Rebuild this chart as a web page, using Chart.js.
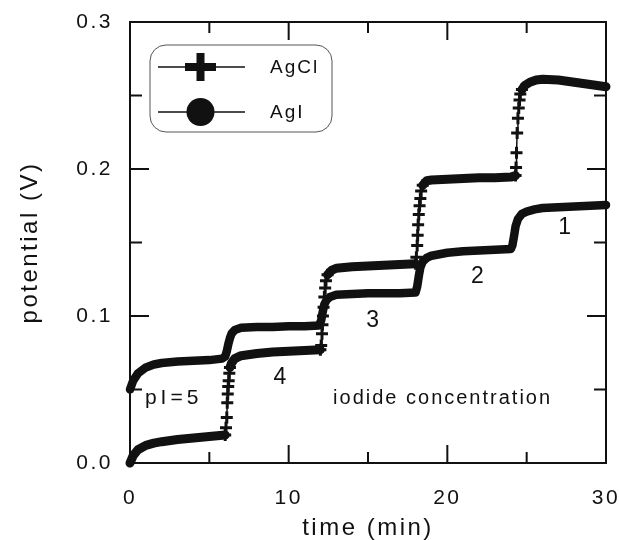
<!DOCTYPE html>
<html><head><meta charset="utf-8">
<script src="https://cdn.jsdelivr.net/npm/chart.js@4/dist/chart.umd.min.js"></script>
<style>html,body{margin:0;padding:0;background:#fff;} #wrap{width:619px;height:540px;}</style>
</head><body><div id="wrap"><canvas id="c" width="619" height="540"></canvas></div>
<script>
// ---- data (time in min, potential in V) ----
const aclTime = [0,0.2,0.5,1,1.5,2,3,4,5,6,6.05,6.1,6.13,6.16,6.19,6.22,6.26,6.3,6.4,6.6,7,8,9,10,11,12,12.05,12.1,12.13,12.16,12.2,12.25,12.3,12.35,12.45,12.7,13,14,15,16,17,18,18.05,18.1,18.13,18.16,18.2,18.25,18.3,18.35,18.45,18.7,19,20,21,22,23,24,24.3,24.33,24.36,24.4,24.45,24.5,24.55,24.6,24.7,24.9,25.2,25.6,26,27,28,29,30];
const aclV = [0,0.005,0.009,0.012,0.0135,0.0145,0.016,0.017,0.018,0.019,0.024,0.031,0.041,0.047,0.052,0.056,0.061,0.065,0.068,0.071,0.073,0.0745,0.0755,0.076,0.0765,0.077,0.080,0.088,0.094,0.100,0.106,0.113,0.119,0.124,0.128,0.131,0.1325,0.1335,0.134,0.1345,0.135,0.1355,0.140,0.148,0.155,0.162,0.169,0.175,0.180,0.185,0.189,0.192,0.1925,0.193,0.1935,0.194,0.194,0.1945,0.1955,0.201,0.211,0.2245,0.2345,0.2415,0.247,0.251,0.254,0.257,0.259,0.2605,0.261,0.2605,0.259,0.2575,0.256];
const agiTime = [0,0.2,0.5,1,1.5,2,3,4,5,5.8,6,6.1,6.2,6.3,6.4,6.6,7,8,9,10,11,11.9,12.05,12.15,12.25,12.4,12.6,13,14,15,16,17,18,18.1,18.2,18.3,18.45,18.7,19,20,21,22,23,24,24.1,24.2,24.3,24.45,24.7,25,25.5,26,27,28,29,30];
const agiV = [0.050,0.056,0.061,0.065,0.067,0.068,0.069,0.0695,0.070,0.071,0.0725,0.076,0.081,0.085,0.088,0.0905,0.092,0.0925,0.0925,0.093,0.093,0.0935,0.097,0.103,0.108,0.111,0.113,0.1145,0.115,0.1155,0.1155,0.1155,0.116,0.120,0.127,0.133,0.137,0.1395,0.141,0.143,0.144,0.1445,0.145,0.1455,0.148,0.154,0.161,0.166,0.1695,0.171,0.1725,0.1735,0.174,0.1745,0.175,0.1755];
const seriesNames = ['AgCl','AgI'];
const xMajorTicks = [0,10,20,30];
const xMinorTicks = [5,15,25];
const yMajorTicks = [0,0.1,0.2,0.3];
const yMinorTicks = [0.05,0.15,0.25];
const annoText = ['1','2','3','4','pI=5','iodide concentration'];
const annoX = [27.4,21.9,15.3,9.45,2.75,19.7];
const annoY = [0.160,0.1265,0.097,0.058,0.044,0.044];

const FAM = '"Liberation Sans", Arial, Helvetica, sans-serif';
const INK = '#111';

const toXY = (xs, ys) => xs.map((x, i) => ({x, y: ys[i]}));

// steep = fast rise between two samples (V per min)
const STEEP = 0.03;
const segSteep = c => {
  const a = c.p0.parsed, b = c.p1.parsed;
  const dt = Math.abs(b.x - a.x) || 1e-9;
  return Math.abs(b.y - a.y) / dt > STEEP;
};
const pointSteep = c => {
  const d = c.dataset.data, i = c.dataIndex;
  if (!d || !d[i]) return false;
  const s = (p, q) => p && q ? Math.abs(q.y - p.y) / (Math.abs(q.x - p.x) || 1e-9) : 0;
  return Math.max(s(d[i - 1], d[i]), s(d[i], d[i + 1])) > STEEP && i > 0;
};

const spacing = {
  id: 'spacing',
  beforeLayout(chart){ chart.ctx.letterSpacing = '2.5px'; },
  beforeDraw(chart){ chart.ctx.letterSpacing = '2.5px'; }
};

const decor = {
  id: 'decor',
  afterDatasetsDraw(chart){
    const ctx = chart.ctx, a = chart.chartArea, sx = chart.scales.x, sy = chart.scales.y;
    ctx.save();
    ctx.strokeStyle = INK; ctx.fillStyle = INK;
    ctx.lineWidth = 2;
    ctx.strokeRect(a.left, a.top, a.right - a.left, a.bottom - a.top);
    const tick = (vals, len) => {
      vals.forEach(v => {
        const px = sx.getPixelForValue(v);
        ctx.beginPath();
        ctx.moveTo(px, a.bottom); ctx.lineTo(px, a.bottom - len);
        ctx.moveTo(px, a.top); ctx.lineTo(px, a.top + len);
        ctx.stroke();
      });
    };
    const ticky = (vals, len) => {
      vals.forEach(v => {
        const py = sy.getPixelForValue(v);
        ctx.beginPath();
        ctx.moveTo(a.left, py); ctx.lineTo(a.left + len, py);
        ctx.moveTo(a.right, py); ctx.lineTo(a.right - len, py);
        ctx.stroke();
      });
    };
    tick(xMajorTicks, 18); tick(xMinorTicks, 11);
    ticky(yMajorTicks, 19); ticky(yMinorTicks, 12);

    ctx.textAlign = 'center'; ctx.textBaseline = 'middle';
    annoText.forEach((t, i) => {
      if (t.length <= 1) { ctx.font = '23px ' + FAM; ctx.letterSpacing = '0px'; }
      else if (t.length <= 4) { ctx.font = '21px ' + FAM; ctx.letterSpacing = '4px'; }
      else { ctx.font = '20px ' + FAM; ctx.letterSpacing = '2px'; }
      ctx.fillText(t, sx.getPixelForValue(annoX[i]), sy.getPixelForValue(annoY[i]));
    });

    // legend box
    const L = 150, T = 45, R = 332, B = 132, rad = 16;
    ctx.lineWidth = 1; ctx.strokeStyle = '#555';
    ctx.beginPath();
    ctx.roundRect(L, T, R - L, B - T, rad);
    ctx.stroke();
    ctx.strokeStyle = INK;
    const rows = [67, 112];
    ctx.lineWidth = 1.3;
    rows.forEach(yy => { ctx.beginPath(); ctx.moveTo(158, yy); ctx.lineTo(245, yy); ctx.stroke(); });
    ctx.fillRect(185, rows[0] - 4, 31, 8);
    ctx.fillRect(196.5, rows[0] - 14, 8, 28);
    ctx.beginPath(); ctx.arc(200.5, rows[1], 14, 0, Math.PI * 2); ctx.fill();
    ctx.font = '19px ' + FAM;
    ctx.textAlign = 'left';
    ctx.letterSpacing = '2px';
    ctx.fillText(seriesNames[0], 270, rows[0] + 1);
    ctx.fillText(seriesNames[1], 270, rows[1] + 1);
    ctx.restore();
  }
};

new Chart(document.getElementById('c'), {
  type: 'line',
  data: {
    datasets: [
      {
        label: seriesNames[0],
        data: toXY(aclTime, aclV),
        borderColor: INK, backgroundColor: INK,
        borderWidth: 9, borderCapStyle: 'round', borderJoinStyle: 'round',
        segment: { borderWidth: c => segSteep(c) ? 1.5 : 9 },
        pointStyle: 'cross', pointBorderWidth: 3,
        pointRadius: c => pointSteep(c) ? 6 : 0,
        pointBorderColor: INK, tension: 0, clip: false
      },
      {
        label: seriesNames[1],
        data: toXY(agiTime, agiV),
        borderColor: INK, backgroundColor: INK,
        borderWidth: 8.5, borderCapStyle: 'round', borderJoinStyle: 'round',
        pointStyle: 'circle', pointRadius: 3.5, pointBorderWidth: 0,
        pointBackgroundColor: INK, tension: 0, clip: false
      }
    ]
  },
  options: {
    responsive: false, animation: false, devicePixelRatio: 1,
    layout: { padding: { top: 22, right: 13, left: 0, bottom: 0 } },
    plugins: { legend: { display: false }, tooltip: { enabled: false } },
    scales: {
      x: {
        type: 'linear', min: 0, max: 30,
        grid: { display: false, drawTicks: false }, border: { display: false },
        ticks: { stepSize: 10, color: INK, font: { family: FAM, size: 21 }, padding: 23, maxRotation: 0,
                 callback: v => String(v) },
        title: { display: true, text: 'time (min)', color: INK,
                 font: { family: FAM, size: 24, lineHeight: 1 }, padding: { top: 0, bottom: 0 } },
        afterFit(s){ s.height = 77; s.paddingLeft = 0; s.paddingRight = 0; }
      },
      y: {
        type: 'linear', min: 0, max: 0.3,
        grid: { display: false, drawTicks: false }, border: { display: false },
        ticks: { stepSize: 0.1, color: INK, font: { family: FAM, size: 21 }, padding: 17,
                 callback: v => Number(v).toFixed(1) },
        title: { display: true, text: 'potential (V)', color: INK,
                 font: { family: FAM, size: 24, lineHeight: 1 }, padding: { top: 18, bottom: 0 } },
        afterFit(s){ s.width = 130; s.paddingTop = 0; s.paddingBottom = 0; }
      }
    }
  },
  plugins: [spacing, decor]
});
</script>
</body></html>
